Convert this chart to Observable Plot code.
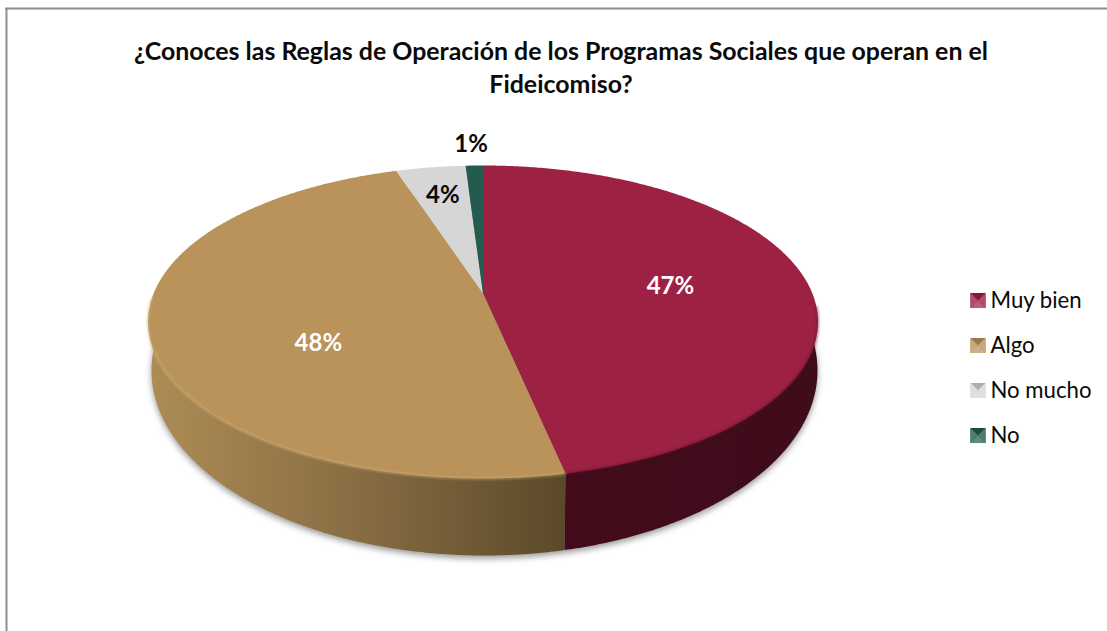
<!DOCTYPE html>
<html><head><meta charset="utf-8">
<script src="https://cdn.jsdelivr.net/npm/d3@7"></script>
<script src="https://cdn.jsdelivr.net/npm/@observablehq/plot@0.6"></script>
<style>html,body{margin:0;padding:0;background:#fff;overflow:hidden}svg{display:block}</style>
</head><body><div id="chart"></div>
<script>
const categories = ["Muy bien", "Algo", "No mucho", "No"];
const shares = [46.7, 48.3, 4, 1];
const labels = ["47%", "48%", "4%", "1%"];
const topColors = ["#9d2143", "#b9935a", "#d6d6d6", "#235b4e"];
const titleLines = ["¿Conoces las Reglas de Operación de los Programas Sociales que operan en el", "Fideicomiso?"];

const W = 1107, H = 631, FONT = "Lato, 'Open Sans', sans-serif";
const TOP = {cx: 482.5, cy: 321.5, a: 329.4, b: 156.5, d: 28.5, k: 0.182};
const BASE = {cx: 484, cy: 370, rx: 333, ry: 185};

// the disc, seen in perspective: the pie's centre sits above the ellipse's centre
function onTop(theta, r = 1) {
  const s = Math.sin(theta) * r, c = Math.cos(theta) * r, w = 1 + TOP.k * c;
  return [TOP.cx + TOP.a * s / w, TOP.cy - (TOP.b * c + TOP.d) / w];
}
function baseAt(t) {
  return [BASE.cx + BASE.rx * Math.sin(t), BASE.cy - BASE.ry * Math.cos(t)];
}
// ellipse parameter of a rim point, used to carry a slice boundary to the base
function rimParam(theta) {
  const [x, y] = onTop(theta);
  return Math.atan2((x - TOP.cx) / 335, (TOP.cy - y) / 156.5);
}
const arcs = d3.pie().sort(null).value(d => d)(shares);
const deg = Math.PI / 180;
function angles(a0, a1) { return d3.range(a0, a1, deg / 2).concat(a1); }

const facePts = arcs.map(a => [onTop(0, 0), ...angles(a.startAngle, a.endAngle).map(t => onTop(t))]);
const join = (rimParam(arcs[0].endAngle) + 2 * Math.PI) % (2 * Math.PI) + 0.35 * deg;
const wallRed = [onTop(arcs[0].endAngle), ...angles(60 * deg, join).reverse().map(baseAt)];
const wallTan = [onTop(arcs[0].endAngle), ...angles(join, 300 * deg).map(baseAt)];
const shadow = angles(0, 2 * Math.PI).map(baseAt);
const rimTan = angles(arcs[0].endAngle, 268 * deg).map(t => onTop(t));
const rimRed = angles(95 * deg, arcs[0].endAngle).map(t => onTop(t));

// label spots on the disc: radius, plus a fine nudge in px
const labelPos = [
  {r: 0.60, dx: -7, dy: 2, fill: "#fff"},
  {r: 0.52, dx: 5, dy: 29, fill: "#fff"},
  {r: 0.80, dx: 3, dy: 6, fill: "#0a0a0a"},
  {r: 1.15, dx: -2, dy: -5, fill: "#0a0a0a"}
];
const labelData = arcs.map((a, i) => {
  const [x, y] = onTop((a.startAngle + a.endAngle) / 2, labelPos[i].r);
  return {x: x + labelPos[i].dx, y: y + labelPos[i].dy, text: labels[i], fill: labelPos[i].fill};
});

function tri(side) {
  return {draw(ctx, size) {
    const s = Math.sqrt(size) / 2;
    const c = {n: [[-s, -s], [s, -s]], s: [[-s, s], [s, s]], w: [[-s, -s], [-s, s]], e: [[s, -s], [s, s]]}[side];
    ctx.moveTo(0, 0); ctx.lineTo(...c[0]); ctx.lineTo(...c[1]); ctx.closePath();
  }};
}
const legendY = [300, 345, 390, 435];
const legendData = categories.map((name, i) => ({name, y: legendY[i], color: topColors[i]}));
const shade = (c, v) => v >= 0 ? d3.interpolateRgb(c, "#fff")(v) : d3.interpolateRgb(c, "#000")(-v);

const defs = () => {
  const g = d3.create("svg:defs");
  const grad = (id, x1, x2, stops) => {
    const l = g.append("linearGradient").attr("id", id).attr("gradientUnits", "userSpaceOnUse")
      .attr("x1", x1).attr("x2", x2).attr("y1", 0).attr("y2", 0);
    stops.forEach(([o, c]) => l.append("stop").attr("offset", o).attr("stop-color", c));
  };
  grad("wallTan", 150, 566, [[0, "#ad8c55"], [0.45, "#8c7045"], [1, "#5a4929"]]);
  grad("wallRed", 566, 820, [[0, "#420b1b"], [1, "#3f0c1a"]]);
  return g.node();
};
const poly = (pts, o) => Plot.line(pts, {x: d => d[0], y: d => d[1], stroke: "none", curve: "linear-closed", ...o});
const wire = (pts, o) => Plot.line(pts, {x: d => d[0], y: d => d[1], ...o});

const chart = Plot.plot({
  width: W, height: H, margin: 0,
  x: {domain: [0, W], range: [0, W], axis: null},
  y: {domain: [0, H], range: [0, H], axis: null},
  color: {type: "identity"},
  marks: [
    defs,
    Plot.ruleX([6], {y1: 8, y2: H, stroke: "#8e8e8e", strokeWidth: 2}),
    Plot.ruleY([8], {x1: 5, x2: W, stroke: "#8e8e8e", strokeWidth: 2}),
    Plot.text(titleLines, {x: 560.5, y: (d, i) => 52 + i * 33, text: d => d, fontSize: 24.9, fontWeight: 700, fontFamily: FONT, fill: "#0a0a0a"}),
    poly(shadow, {fill: "#777", fillOpacity: 0.75, dy: 3, imageFilter: "blur(3px)"}),
    poly(wallTan, {fill: "url(#wallTan)"}),
    poly(wallRed, {fill: "url(#wallRed)"}),
    ...facePts.map((pts, i) => poly(pts, {fill: topColors[i]})),
    wire(rimTan, {stroke: "#d3b27a", strokeWidth: 2.5, strokeOpacity: 0.5, imageFilter: "blur(1px)"}),
    wire(rimRed, {stroke: "#5e1228", strokeWidth: 2.5, strokeOpacity: 0.5, imageFilter: "blur(1px)"}),
    Plot.text(labelData, {x: "x", y: "y", text: "text", fill: "fill", fontSize: 24, fontWeight: 700, fontFamily: FONT}),
    Plot.dot(legendData, {x: 977.5, y: "y", r: 8.5, symbol: "square", fill: "color", stroke: "none"}),
    ...[["n", -0.18], ["s", 0.28], ["w", 0.2], ["e", 0.2]].map(([side, v]) =>
      Plot.dot(legendData, {x: 977.5, y: "y", r: 8.5, symbol: tri(side), fill: d => shade(d.color, v), stroke: "none"})),
    Plot.text(legendData, {x: 990, y: "y", text: "name", textAnchor: "start", fontSize: 22.2, fontFamily: FONT, fill: "#0a0a0a"})
  ]
});
document.getElementById("chart").append(chart);
</script></body></html>
